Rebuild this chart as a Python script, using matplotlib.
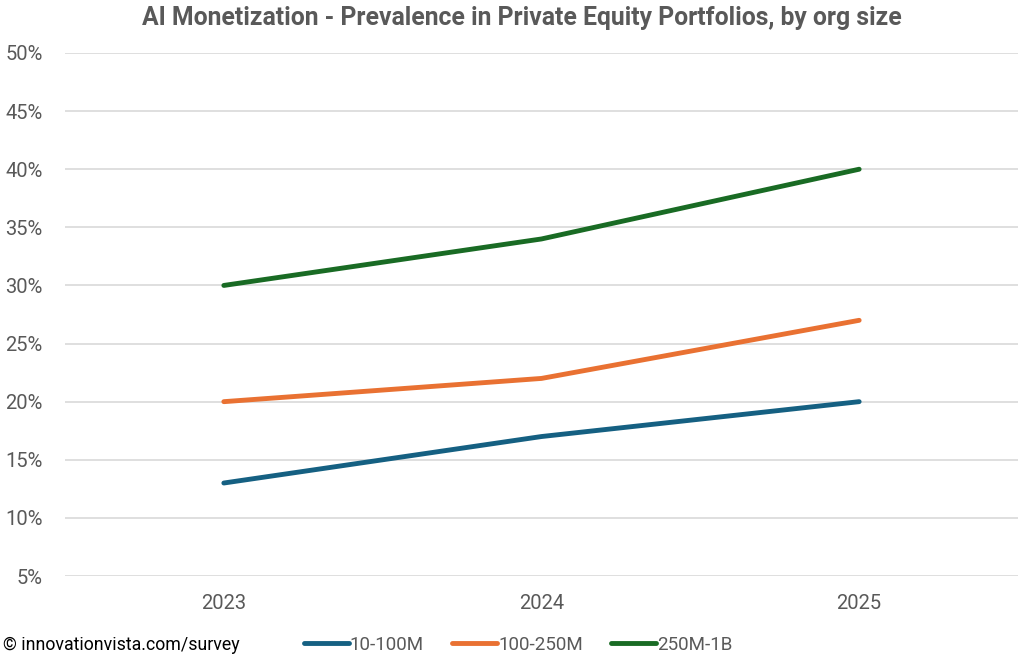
import matplotlib.pyplot as plt
from matplotlib.ticker import PercentFormatter

years = ['2023', '2024', '2025']
small = [0.13, 0.17, 0.20]
mid = [0.20, 0.22, 0.27]
large = [0.30, 0.34, 0.40]
labels = ['10-100M', '100-250M', '250M-1B']
colors = ['#156082', '#E97132', '#196B24']

plt.rcParams['font.family'] = ['Roboto', 'DejaVu Sans']
grey = '#595959'

fig = plt.figure(figsize=(10.24, 6.65), dpi=100)
ax = fig.add_axes([65 / 1024, 1 - 576 / 665, 953 / 1024, (576 - 53) / 665])

x = range(len(years))
for vals, lab, col in zip([small, mid, large], labels, colors):
    ax.plot(x, vals, color=col, lw=3.5, label=lab, solid_capstyle='round')

ax.set_xlim(-0.5, 2.5)
ax.set_ylim(0.05, 0.50)
ax.set_yticks([i / 100 for i in range(5, 51, 5)])
ax.yaxis.set_major_formatter(PercentFormatter(1.0, decimals=0))
ax.set_xticks(list(x))
ax.set_xticklabels(years)
ax.grid(axis='y', color='#d9d9d9', lw=1.2)
ax.set_axisbelow(True)
for s in ax.spines.values():
    s.set_visible(False)
ax.tick_params(length=0, labelsize=14.5, colors=grey)
ax.tick_params(axis='y', pad=16)
ax.tick_params(axis='x', pad=13)

fig.text(522 / 1024, 1 - 18 / 665, 'AI Monetization - Prevalence in Private Equity Portfolios, by org size',
         ha='center', va='center', fontsize=17.8, fontweight='bold', color=grey)
fig.text(3 / 1024, 1 - 645 / 665, '\u00a9 innovationvista.com/survey', ha='left', va='center',
         fontsize=12.8, color='black')

fig.legend(loc='center', bbox_to_anchor=(518 / 1024, 1 - 645 / 665), ncol=3, frameon=False,
           fontsize=13.5, handlelength=2.4, handletextpad=0.05, columnspacing=1.5,
           labelcolor=grey)

fig.savefig('out.png', dpi=100)
